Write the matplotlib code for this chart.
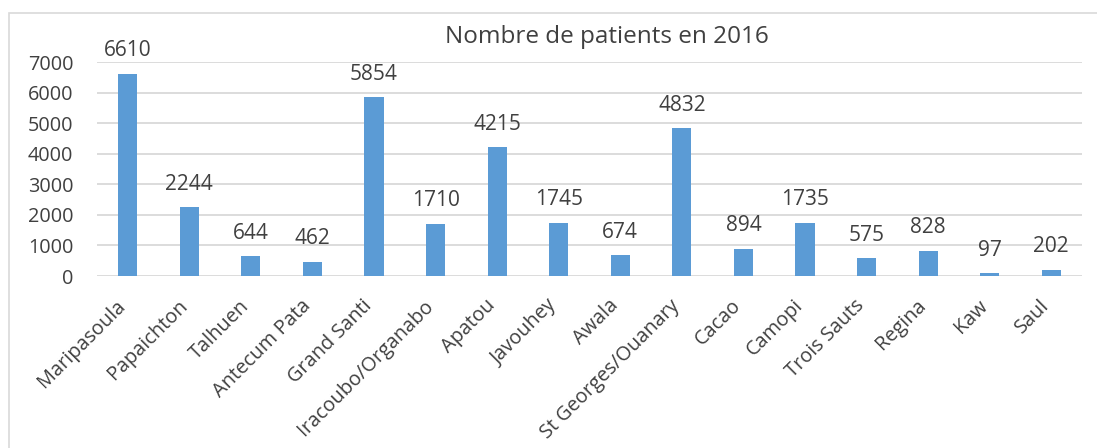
import matplotlib.pyplot as plt
import matplotlib.transforms as mtransforms
from matplotlib.patches import Rectangle

# Data
communes = ["Maripasoula", "Papaichton", "Talhuen", "Antecum Pata", "Grand Santi",
            "Iracoubo/Organabo", "Apatou", "Javouhey", "Awala", "St Georges/Ouanary",
            "Cacao", "Camopi", "Trois Sauts", "Regina", "Kaw", "Saul"]
patients = [6610, 2244, 644, 462, 5854, 1710, 4215, 1745, 674, 4832,
            894, 1735, 575, 828, 97, 202]
y_ticks = [0, 1000, 2000, 3000, 4000, 5000, 6000, 7000]

W, H = 1097, 448
plt.rcParams["font.family"] = ["Open Sans", "DejaVu Sans"]
text_color = "#404040"

fig = plt.figure(figsize=(W / 100, H / 100), dpi=100)
ax = fig.add_axes([97 / W, 1 - 276 / H, (1082 - 97) / W, (276 - 62) / H])

x = range(len(communes))
bars = ax.bar(x, patients, width=0.31, color="#5B9BD5", zorder=3)

for rect, val in zip(bars, patients):
    ax.annotate(f"{val}", (rect.get_x() + rect.get_width() / 2, rect.get_height()),
                xytext=(0, 9), textcoords="offset points", ha="center", va="bottom",
                fontsize=15, color=text_color)

ax.set_xlim(-0.5, len(communes) - 0.5)
ax.set_ylim(0, 7000)
ax.set_yticks(y_ticks)
ax.set_yticklabels([str(t) for t in y_ticks], fontsize=14.3, color=text_color)
ax.set_xticks(list(x))
ax.set_xticklabels(communes, rotation=45, ha="right", rotation_mode="anchor",
                   fontsize=14.3, color=text_color)
ax.tick_params(length=0)
ax.tick_params(axis="y", pad=17)
ax.tick_params(axis="x", pad=10)

# nudge the slanted labels down-left like the original
shift = mtransforms.ScaledTranslation(-0.12, -0.06, fig.dpi_scale_trans)
for lab in ax.get_xticklabels():
    lab.set_transform(lab.get_transform() + shift)

ax.grid(axis="y", color="#D9D9D9", linewidth=1.3, zorder=0)
for s in ax.spines.values():
    s.set_visible(False)

fig.text(607 / W, 1 - 37 / H, "Nombre de patients en 2016", ha="center", va="center",
         fontsize=17.5, color=text_color)

# chart frame
fig.patches.append(Rectangle((9 / W, -0.1), 1.2, 1 - 13 / H + 0.1,
                             transform=fig.transFigure, fill=False,
                             edgecolor="#D9D9D9", linewidth=1.2))

fig.savefig("out.png", dpi=100)
